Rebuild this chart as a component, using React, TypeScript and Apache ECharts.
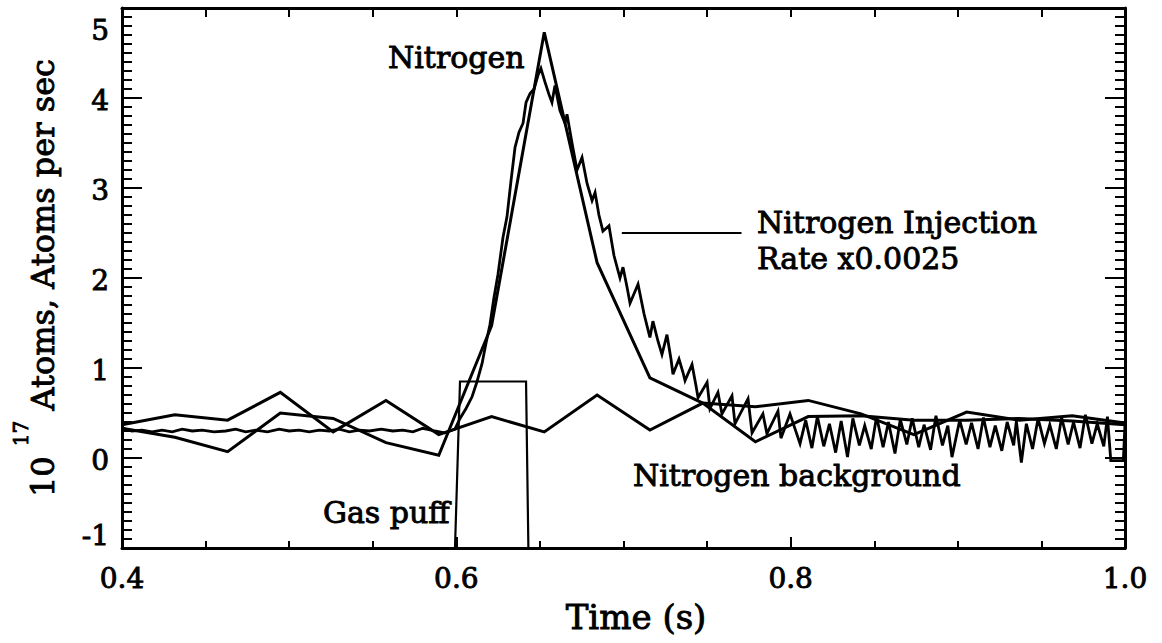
import React, { useEffect, useRef } from "react";
import * as echarts from "echarts";

// Time grid of the coarse (model and background) traces, in seconds
const coarseTimes = [
  0.4, 0.4316, 0.4632, 0.4947, 0.5263, 0.5579, 0.5895, 0.6211, 0.6526, 0.6842,
  0.7158, 0.7474, 0.7789, 0.8105, 0.8421, 0.8737, 0.9053, 0.9368, 0.9684, 1.0,
];

// Nitrogen (sharp peak), 10^17 atoms
const nitrogenValues = [
  0.33, 0.23, 0.07, 0.5, 0.44, 0.17, 0.03, 1.47, 4.73, 2.17,
  0.89, 0.61, 0.18, 0.46, 0.47, 0.42, 0.42, 0.44, 0.41, 0.37,
];

// Nitrogen background, 10^17 atoms
const backgroundValues = [
  0.37, 0.48, 0.42, 0.73, 0.29, 0.64, 0.26, 0.46, 0.29, 0.7,
  0.31, 0.61, 0.57, 0.64, 0.49, 0.26, 0.51, 0.42, 0.47, 0.39,
];

// Nitrogen injection rate x0.0025 (fast sampled trace)
const injectionTimes = [
  0.4, 0.406, 0.412, 0.418, 0.424, 0.43, 0.436, 0.442, 0.448, 0.455,
  0.462, 0.468, 0.474, 0.48, 0.487, 0.494, 0.5, 0.506, 0.512, 0.518,
  0.524, 0.53, 0.536, 0.542, 0.548, 0.555, 0.562, 0.568, 0.574, 0.58,
  0.587, 0.593, 0.5992, 0.6022, 0.6058, 0.6094, 0.6124, 0.6154, 0.6178, 0.6201,
  0.6225, 0.6249, 0.6279, 0.6303, 0.6327, 0.6351, 0.6375, 0.6399, 0.6417, 0.6441,
  0.6465, 0.6488, 0.6506, 0.653, 0.6554, 0.6572, 0.659, 0.662, 0.665, 0.6662,
  0.6692, 0.6722, 0.6752, 0.6782, 0.6812, 0.683, 0.6853, 0.6877, 0.6913, 0.6943,
  0.6979, 0.6997, 0.7021, 0.7039, 0.7087, 0.7123, 0.7158, 0.7176, 0.7206, 0.723,
  0.726, 0.7284, 0.7296, 0.7332, 0.7356, 0.7368, 0.741, 0.7434, 0.7446, 0.75,
  0.7517, 0.7565, 0.7589, 0.7649, 0.7667, 0.7745, 0.7769, 0.7834, 0.7858, 0.7924,
  0.7942, 0.7996, 0.8056, 0.809, 0.8127, 0.816, 0.8198, 0.8232, 0.8269, 0.8302,
  0.834, 0.8372, 0.8411, 0.8443, 0.8482, 0.8514, 0.8553, 0.8585, 0.8624, 0.8656,
  0.8695, 0.8727, 0.8766, 0.8798, 0.8837, 0.8869, 0.8908, 0.894, 0.8965, 0.9011,
  0.905, 0.9082, 0.9121, 0.9153, 0.9192, 0.9224, 0.9263, 0.9295, 0.9334, 0.935,
  0.938, 0.941, 0.9447, 0.948, 0.9518, 0.955, 0.9589, 0.9621, 0.966, 0.9692,
  0.9731, 0.9763, 0.9802, 0.9834, 0.9873, 0.9895, 0.9915, 0.999, 1.0,
];
const injectionValues = [
  0.33, 0.3, 0.31, 0.29, 0.31, 0.29, 0.32, 0.3, 0.31, 0.29,
  0.3, 0.32, 0.29, 0.31, 0.29, 0.32, 0.3, 0.31, 0.29, 0.31,
  0.3, 0.32, 0.29, 0.31, 0.3, 0.32, 0.3, 0.31, 0.29, 0.33,
  0.3, 0.28, 0.32, 0.44, 0.55, 0.68, 0.85, 1.05, 1.28, 1.48,
  1.78, 2.04, 2.45, 2.68, 3.08, 3.45, 3.62, 3.72, 3.95, 4.05,
  4.1, 4.25, 4.33, 4.18, 4.04, 3.95, 4.14, 3.86, 3.72, 3.82,
  3.5, 3.2, 3.34, 3.05, 2.86, 2.95, 2.7, 2.52, 2.58, 2.25,
  2.0, 2.12, 1.9, 1.72, 1.93, 1.6, 1.34, 1.52, 1.3, 1.15,
  1.37, 1.1, 0.93, 1.1, 0.95, 0.86, 1.04, 0.8, 0.67, 0.84,
  0.55, 0.73, 0.49, 0.69, 0.38, 0.66, 0.28, 0.49, 0.27, 0.52,
  0.22, 0.49, 0.16, 0.42, 0.11, 0.46, 0.13, 0.38, 0.06, 0.41,
  0.01, 0.44, 0.14, 0.36, 0.1, 0.46, 0.12, 0.4, 0.05, 0.43,
  0.15, 0.44, 0.12, 0.37, 0.09, 0.47, 0.14, 0.36, 0.01, 0.42,
  0.15, 0.39, 0.1, 0.45, 0.12, 0.36, 0.08, 0.4, 0.14, 0.41,
  -0.05, 0.38, 0.1, 0.44, 0.16, 0.37, 0.1, 0.45, 0.15, 0.4,
  0.11, 0.48, 0.16, 0.38, 0.13, 0.46, -0.03, -0.03, 0.38,
];

// Gas puff valve waveform
const gasPuffTimes = [0.5992, 0.6022, 0.6417, 0.6431];
const gasPuffValues = [-1, 0.85, 0.85, -1];

// Leader line from the injection-rate label to its trace
const leaderTimes = [0.699, 0.7706];
const leaderValues = [2.5, 2.5];

const xTickLabels = ["0.4", "0.6", "0.8", "1.0"];
const yTickLabels = ["-1", "0", "1", "2", "3", "4", "5"];

const SERIF = "'DejaVu Serif', 'Liberation Serif', serif";
const INK = "#000";
// a thin outline in the ink colour gives the serif glyphs a heavier, printed look
const HEAVY = { textBorderColor: INK, textBorderWidth: 0.9 };

const zip = (xs: number[], ys: number[]) => xs.map((x, i) => [x, ys[i]]);

const lineSeries = (name: string, data: number[][], width: number) => ({
  name,
  type: "line",
  data,
  showSymbol: false,
  symbol: "none",
  silent: true,
  clip: true,
  lineStyle: { color: INK, width, join: "miter" },
  z: 3,
});

const frameAxis = (extra: any) => ({
  type: "value",
  splitLine: { show: false },
  minorSplitLine: { show: false },
  axisLine: { show: true, onZero: false, lineStyle: { color: INK, width: 3 } },
  ...extra,
});

export default function App() {
  const ref = useRef<HTMLDivElement>(null);

  useEffect(() => {
    if (!ref.current) return;
    const chart = echarts.init(ref.current, undefined, { renderer: "svg" });

    const yMin = Number(yTickLabels[0]);
    const yMax = Number(yTickLabels[yTickLabels.length - 1]);

    const yFormatter = (v: number) => {
      const label = yTickLabels.find((l) => Math.abs(Number(l) - v) < 1e-9);
      if (label === undefined) return "";
      if (v === yMax) return `{hi|${label}}`;
      if (v === yMin) return `{lo|${label}}`;
      return `{n|${label}}`;
    };
    const xFormatter = (v: number) =>
      xTickLabels.find((l) => Math.abs(Number(l) - v) < 1e-9) ?? "";

    const tickFont = { fontFamily: SERIF, fontSize: 28, color: INK, ...HEAVY };
    const textFont = `30px ${SERIF}`;
    const label = (text: string, x: number, y: number) => ({
      type: "text",
      x,
      y,
      silent: true,
      style: {
        text,
        font: textFont,
        fill: INK,
        stroke: INK,
        lineWidth: 0.9,
        textAlign: "left",
        textVerticalAlign: "middle",
        align: "left",
        verticalAlign: "middle",
      },
    });

    const titleFont = { fontFamily: SERIF, color: INK, ...HEAVY };

    chart.setOption({
      animation: false,
      backgroundColor: "#fff",
      grid: { left: 122, top: 8, width: 1003, height: 540 },
      xAxis: [
        frameAxis({
          position: "bottom",
          min: 0.4,
          max: 1.0,
          interval: 0.2,
          axisTick: { inside: true, length: 11, lineStyle: { color: INK, width: 2 } },
          minorTick: { show: true, splitNumber: 4, length: 7, lineStyle: { color: INK, width: 2 } },
          axisLabel: { ...tickFont, margin: 16, formatter: xFormatter },
          name: "Time (s)",
          nameLocation: "middle",
          nameGap: 52,
          nameTextStyle: { ...titleFont, fontSize: 34, padding: [0, 0, 0, 25] },
        }),
        frameAxis({
          position: "top",
          min: 0.4,
          max: 1.0,
          interval: 0.05,
          axisTick: { inside: true, length: 9, lineStyle: { color: INK, width: 2 } },
          axisLabel: { show: false },
        }),
      ],
      yAxis: [
        frameAxis({
          position: "left",
          min: yMin,
          max: yMax,
          interval: 1,
          axisTick: { inside: true, length: 20, lineStyle: { color: INK, width: 2 } },
          minorTick: { show: true, splitNumber: 10, length: 10, lineStyle: { color: INK, width: 2 } },
          axisLabel: {
            ...tickFont,
            margin: 13,
            formatter: yFormatter,
            rich: {
              n: { ...tickFont, padding: [5, 0, 0, 0] },
              hi: { ...tickFont, padding: [44, 0, 0, 0] },
              lo: { ...tickFont, padding: [0, 0, 26, 0] },
            },
          },
          name: "{n|10 }{s|17}{n| Atoms, Atoms per sec}",
          nameLocation: "middle",
          nameRotate: 90,
          nameGap: 63,
          nameTextStyle: {
            ...titleFont,
            fontSize: 32,
            rich: {
              n: { ...titleFont, fontSize: 32, lineHeight: 40, verticalAlign: "bottom" },
              s: {
                ...titleFont,
                fontSize: 20,
                lineHeight: 24,
                verticalAlign: "bottom",
                padding: [0, 0, 28, 0],
              },
            },
          },
        }),
        frameAxis({
          position: "right",
          min: yMin,
          max: yMax,
          interval: 1,
          axisTick: { inside: true, length: 20, lineStyle: { color: INK, width: 2 } },
          minorTick: { show: true, splitNumber: 10, length: 10, lineStyle: { color: INK, width: 2 } },
          axisLabel: { show: false },
        }),
      ],
      series: [
        lineSeries("Nitrogen background", zip(coarseTimes, backgroundValues), 3),
        lineSeries("Nitrogen", zip(coarseTimes, nitrogenValues), 3),
        lineSeries("Nitrogen Injection Rate x0.0025", zip(injectionTimes, injectionValues), 2.8),
        lineSeries("Gas puff", zip(gasPuffTimes, gasPuffValues), 2.2),
        lineSeries("Injection label leader", zip(leaderTimes, leaderValues), 2.2),
      ],
      graphic: [
        label("Nitrogen", 388, 57),
        label("Nitrogen Injection", 757, 222),
        label("Rate x0.0025", 757, 258),
        label("Nitrogen background", 633, 475),
        label("Gas puff", 323, 512),
      ],
    });

    return () => chart.dispose();
  }, []);

  return (
    <div
      ref={ref}
      style={{ position: "fixed", left: 0, top: 0, width: 1162, height: 643, background: "#fff" }}
    />
  );
}
